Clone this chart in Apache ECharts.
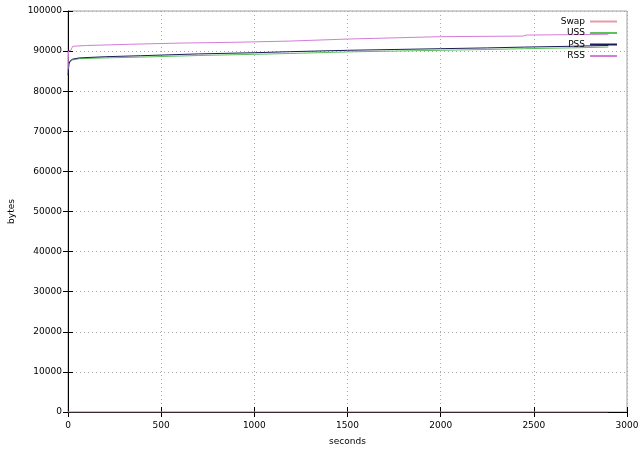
<!DOCTYPE html>
<html><head><meta charset="utf-8">
<script src="https://cdn.jsdelivr.net/npm/echarts@6/dist/echarts.min.js"></script>
<style>html,body{margin:0;padding:0;background:#fff}#c{width:640px;height:449px}</style>
</head><body><div id="c"></div>
<script>
const seriesNames = ['Swap','USS','PSS','RSS'];
const swapData = [[0,0],[2900,0]];
const ussData = [[0,85000],[5,86800],[12,87400],[25,87800],[60,88100],[200,88300],[390,88500],[700,88900],[1000,89200],[1190,89400],[1500,89800],[1750,90000],[2000,90200],[2250,90400],[2450,90600],[2700,90800],[2900,91000]];
const pssData = [[0,84000],[5,86800],[12,87600],[25,88000],[60,88300],[200,88600],[390,88850],[700,89300],[1000,89600],[1190,89850],[1500,90200],[1750,90400],[2000,90600],[2250,90800],[2450,91000],[2700,91200],[2900,91400]];
const rssData = [[0,85500],[3,90000],[15,90200],[25,91200],[100,91400],[330,91700],[600,92000],[900,92200],[1190,92500],[1500,93000],[1750,93300],[2000,93600],[2440,93750],[2460,94000],[2700,94100],[2900,94200]];
const xTicks = {min:0,max:3000,interval:500};
const yTicks = {min:0,max:100000,interval:10000};

const colors = ['#e59aa6','#5cc05c','#1c1c58','#d47cd8'];
const font = 'DejaVu Sans';
const chart = echarts.init(document.getElementById('c'), null, {renderer:'canvas'});
const plain = v => String(v);
const baseAxis = {
  axisLine:{show:true,lineStyle:{color:'#000',width:1}},
  axisTick:{show:true,inside:true,length:5,lineStyle:{color:'#000'}},
  splitLine:{show:true,lineStyle:{color:'#aaa',type:[1,3],width:1}}
};
chart.setOption({
  animation:false,
  backgroundColor:'#fff',
  grid:{left:68,right:13,top:11,bottom:37,show:true,borderColor:'#a0a0a0',borderWidth:1,outerBoundsMode:'none',containLabel:false},
  legend:{
    data:seriesNames.map((n,i)=>({name:n,itemStyle:{color:colors[i]}})), orient:'vertical', right:18, top:12, align:'right',
    itemWidth:27, itemHeight:2, itemGap:2.5,
    textStyle:{fontFamily:font,fontSize:9,color:'#000',padding:[0,0,0,0]},
    icon:'rect', itemStyle:{borderWidth:0}
  },
  xAxis:[
    Object.assign({},baseAxis,{type:'value',min:xTicks.min,max:xTicks.max,interval:xTicks.interval,
      name:'seconds',nameLocation:'middle',nameGap:25,nameTextStyle:{fontFamily:font,fontSize:9,color:'#000'},
      axisLabel:{color:'#000',fontFamily:font,fontSize:9,margin:9,formatter:plain}}),
    {type:'value',position:'top',min:xTicks.min,max:xTicks.max,interval:xTicks.interval,
      axisLine:{show:false},axisTick:{show:true,inside:true,length:5,lineStyle:{color:'#000'}},
      axisLabel:{show:false},splitLine:{show:false}}
  ],
  yAxis:[
    Object.assign({},baseAxis,{type:'value',min:yTicks.min,max:yTicks.max,interval:yTicks.interval,
      name:'bytes',nameLocation:'middle',nameGap:52,nameRotate:90,nameTextStyle:{fontFamily:font,fontSize:9,color:'#000'},
      axisLabel:{color:'#000',fontFamily:font,fontSize:9,margin:6,formatter:plain}}),
    {type:'value',position:'right',min:yTicks.min,max:yTicks.max,interval:yTicks.interval,
      axisLine:{show:false},axisTick:{show:true,inside:true,length:5,lineStyle:{color:'#000'}},
      axisLabel:{show:false},splitLine:{show:false}}
  ],
  series:[
    {name:'Swap',type:'line',data:swapData,symbol:'none',lineStyle:{width:1,color:colors[0]},itemStyle:{color:colors[0]}},
    {name:'USS',type:'line',data:ussData,symbol:'none',lineStyle:{width:1,color:colors[1]},itemStyle:{color:colors[1]}},
    {name:'PSS',type:'line',data:pssData,symbol:'none',lineStyle:{width:1,color:colors[2]},itemStyle:{color:colors[2]}},
    {name:'RSS',type:'line',data:rssData,symbol:'none',lineStyle:{width:1,color:colors[3]},itemStyle:{color:colors[3]}}
  ]
});
</script></body></html>
